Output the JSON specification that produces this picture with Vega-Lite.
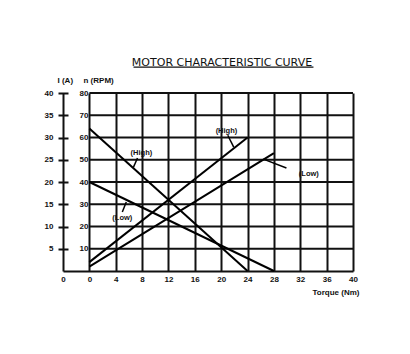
{
  "$schema": "https://vega.github.io/schema/vega-lite/v6.json",
  "width": 290,
  "height": 178,
  "autosize": "none",
  "padding": {"left": 63, "top": 93, "right": 57, "bottom": 83},
  "background": "white",
  "title": {"text": "MOTOR CHARACTERISTIC CURVE", "font": "DejaVu Sans", "fontSize": 11, "fontWeight": "normal", "color": "#111", "anchor": "middle", "frame": "group", "dx": 14, "offset": -3},
  "config": {"view": {"stroke": null}, "font": "Liberation Sans"},
  "datasets": {
    "speed": [
      {"series": "High", "t": 0, "v": 64}, {"series": "High", "t": 24, "v": 0},
      {"series": "Low", "t": 0, "v": 40}, {"series": "Low", "t": 28, "v": 0}
    ],
    "current": [
      {"series": "High", "t": 0, "i": 2}, {"series": "High", "t": 24, "i": 30},
      {"series": "Low", "t": 0, "i": 1}, {"series": "Low", "t": 28, "i": 26.5}
    ],
    "hlines": [
      {"line": "h10", "t": 0, "v": 10}, {"line": "h10", "t": 40, "v": 10},
      {"line": "h20", "t": 0, "v": 20}, {"line": "h20", "t": 40, "v": 20},
      {"line": "h30", "t": 0, "v": 30}, {"line": "h30", "t": 40, "v": 30},
      {"line": "h40", "t": 0, "v": 40}, {"line": "h40", "t": 40, "v": 40},
      {"line": "h50", "t": 0, "v": 50}, {"line": "h50", "t": 40, "v": 50},
      {"line": "h60", "t": 0, "v": 60}, {"line": "h60", "t": 40, "v": 60},
      {"line": "h70", "t": 0, "v": 70}, {"line": "h70", "t": 40, "v": 70},
      {"line": "h80", "t": 0, "v": 80}, {"line": "h80", "t": 40, "v": 80}
    ],
    "underline": [{"line": "u", "t": 6.7, "v": 91.6}, {"line": "u", "t": 34, "v": 91.6}],
    "notes": [
      {"text": "(High)", "t": 20.8, "v": 63, "lt1": 21.0, "lv1": 61, "lt2": 21.9, "lv2": 55.7},
      {"text": "(High)", "t": 7.9, "v": 53, "lt1": 7.3, "lv1": 50.8, "lt2": 6.7, "lv2": 46.7},
      {"text": "(Low)", "t": 33.3, "v": 43.6, "lt1": 26.4, "lv1": 50.3, "lt2": 29.9, "lv2": 46.3},
      {"text": "(Low)", "t": 5.0, "v": 23.8, "lt1": 5.6, "lv1": 31, "lt2": 5.0, "lv2": 26.5}
    ]
  },
  "encoding": {
    "x": {
      "field": "t", "type": "quantitative",
      "scale": {"domain": [-4, 40], "nice": false, "zero": false},
      "axis": {
        "values": [-4, 0, 4, 8, 12, 16, 20, 24, 28, 32, 36, 40],
        "labelExpr": "datum.value == -4 ? '0' : datum.label",
        "grid": true, "gridColor": "#111", "gridWidth": 2, "gridOpacity": 1,
        "domainColor": "#111", "domainWidth": 2, "ticks": false,
        "labelPadding": 4, "labelFontSize": 8, "labelFontWeight": "bold", "labelColor": "#111",
        "labelFlush": false, "labelOverlap": false,
        "title": "Torque (Nm)", "titleFontSize": 8, "titleFontWeight": "bold", "titleColor": "#111",
        "titleAlign": "right", "titleX": 296, "titleY": 21, "titleBaseline": "middle"
      }
    }
  },
  "layer": [
    {
      "encoding": {
        "y": {
          "field": "v", "type": "quantitative",
          "scale": {"domain": [0, 80], "nice": false},
          "axis": {
            "orient": "left", "offset": -26, "values": [10, 20, 30, 40, 50, 60, 70, 80],
            "domain": false, "ticks": false, "grid": false, "labelPadding": 1,
            "labelFontSize": 8, "labelFontWeight": "bold", "labelColor": "#111", "labelFlush": false,
            "title": "n (RPM)", "titleAngle": 0, "titleAlign": "left", "titleBaseline": "middle",
            "titleX": -6, "titleY": -13, "titleFontSize": 8, "titleFontWeight": "bold", "titleColor": "#111"
          }
        }
      },
      "layer": [
        {
          "data": {"name": "hlines"},
          "mark": {"type": "line", "color": "#111", "strokeWidth": 2},
          "encoding": {"detail": {"field": "line"}}
        },
        {
          "data": {"name": "speed"},
          "mark": {"type": "line", "color": "#000", "strokeWidth": 2},
          "encoding": {"detail": {"field": "series"}}
        },
        {
          "data": {"name": "notes"},
          "mark": {"type": "rule", "color": "#000", "strokeWidth": 1.5},
          "encoding": {"x": {"field": "lt1", "type": "quantitative"}, "y": {"field": "lv1", "type": "quantitative"}, "x2": {"field": "lt2"}, "y2": {"field": "lv2"}}
        },
        {
          "data": {"name": "notes"},
          "mark": {"type": "text", "fontSize": 7.5, "fontWeight": "bold", "fill": "#111", "align": "center", "baseline": "middle"},
          "encoding": {"text": {"field": "text"}}
        },
        {
          "data": {"name": "underline"},
          "mark": {"type": "line", "color": "#111", "strokeWidth": 1.2},
          "encoding": {"detail": {"field": "line"}}
        }
      ]
    },
    {
      "data": {"name": "current"},
      "mark": {"type": "line", "color": "#000", "strokeWidth": 2},
      "encoding": {
        "y": {
          "field": "i", "type": "quantitative",
          "scale": {"domain": [0, 40], "nice": false},
          "axis": {
            "orient": "left", "offset": -5, "values": [5, 10, 15, 20, 25, 30, 35, 40],
            "domain": false, "ticks": true, "tickSize": 10, "tickWidth": 2, "tickColor": "#111",
            "grid": false, "labelPadding": 5,
            "labelFontSize": 8, "labelFontWeight": "bold", "labelColor": "#111", "labelFlush": false,
            "title": "I (A)", "titleAngle": 0, "titleAlign": "left", "titleBaseline": "middle",
            "titleX": -11, "titleY": -13, "titleFontSize": 8, "titleFontWeight": "bold", "titleColor": "#111"
          }
        },
        "detail": {"field": "series"}
      }
    }
  ],
  "resolve": {"scale": {"y": "independent"}}
}
